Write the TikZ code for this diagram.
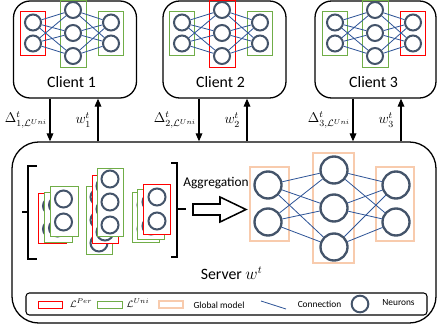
\documentclass[tikz,border=0pt]{standalone}
\usepackage{amsmath}
\usepackage{fontspec}
\setmainfont{Carlito}
\usepackage{tikz}
\usetikzlibrary{arrows.meta, positioning, calc}

\definecolor{perred}{RGB}{255,0,0}
\definecolor{unigreen}{RGB}{112,173,71}
\definecolor{globorange}{RGB}{248,203,173}
\definecolor{neurongray}{RGB}{68,84,106}
\definecolor{linkblue}{RGB}{47,85,151}

\begin{document}
\begin{tikzpicture}[
        x=3mm, y=3mm,
        font=\fontsize{13.5}{16}\selectfont,
        box/.style={draw, rounded corners=5mm, line width=1.1pt},
        neuron/.style={draw=neurongray, circle, line width=1.7pt, minimum size=4.8mm, inner sep=0pt},
        bigneuron/.style={neuron, line width=2pt, minimum size=8.1mm},
        layer/.style={draw, line width=0.8pt, inner sep=0pt},
        link/.style={draw=linkblue, line width=0.7pt},
        bracket/.style={line width=1.3pt},
        lbl/.style={font=\fontsize{12}{14}\selectfont, inner sep=1pt},
        key/.style={font=\fontsize{8}{9}\selectfont},
        arrow/.style={-{Triangle[length=2.4mm,width=2mm]}, line width=1pt}
    ]
        \useasboundingbox (0,0) rectangle (43.7,32.8);

        % Clients
        \node[box, minimum width=36.9mm, minimum height=29.1mm] (client1) at (7.5,27.85) {};
        \node[box, minimum width=36.9mm, minimum height=29.1mm] (client2) at (22.45,27.85) {};
        \node[box, minimum width=36.3mm, minimum height=29.1mm] (client3) at (37.55,27.85) {};

        % Local networks
        \foreach \k/\cx/\ca/\cb/\cc in {1/7.3/perred/unigreen/unigreen, 2/22.2/unigreen/perred/unigreen, 3/37.5/unigreen/unigreen/perred} {
            \node[layer, draw=\ca, minimum width=7.5mm, minimum height=13.2mm] (n\k a) at (\cx-4,29.5) {};
            \node[layer, draw=\cb, minimum width=7.8mm, minimum height=20.1mm] (n\k b) at (\cx,29.45) {};
            \node[layer, draw=\cc, minimum width=7.5mm, minimum height=13.2mm] (n\k c) at (\cx+3.8,29.5) {};
            \node[neuron] (n\k a1) at (\cx-4,30.55) {};
            \node[neuron] (n\k a2) at (\cx-4,28.45) {};
            \node[neuron] (n\k b1) at (\cx,31.8) {};
            \node[neuron] (n\k b2) at (\cx,29.5) {};
            \node[neuron] (n\k b3) at (\cx,27.2) {};
            \node[neuron] (n\k c1) at (\cx+3.8,30.55) {};
            \node[neuron] (n\k c2) at (\cx+3.8,28.45) {};
            \foreach \i in {1,2}
                \foreach \j in {1,2,3} {
                    \draw[link] (n\k a\i) -- (n\k b\j);
                    \draw[link] (n\k b\j) -- (n\k c\i);
                }
            \node (lab\k) at (\cx-0.15,24.6) {Client \k};
        }

        % Server
        \node[box, rounded corners=8mm, minimum width=127.2mm, minimum height=54.3mm] (server) at (22.4,9.55) {};
        \node (srvlab) at (23.15,5.5) {Server $w^t$};

        % Uploads and downloads
        \coordinate (dn1) at (5.0,0);
        \coordinate (up1) at (9.8,0);
        \coordinate (dn2) at (19.9,0);
        \coordinate (up2) at (24.7,0);
        \coordinate (dn3) at (35.3,0);
        \coordinate (up3) at (40.1,0);
        \draw[arrow] (client1.south -| dn1) -- (server.north -| dn1) node[midway, left, lbl, xshift=-0.3mm] {$\Delta^t_{1,\mathcal{L}^{Uni}}$};
        \draw[arrow] (server.north -| up1) -- (client1.south -| up1) node[midway, left, lbl, xshift=-1.6mm] {$w^t_1$};
        \draw[arrow] (client2.south -| dn2) -- (server.north -| dn2) node[midway, left, lbl, xshift=-0.3mm] {$\Delta^t_{2,\mathcal{L}^{Uni}}$};
        \draw[arrow] (server.north -| up2) -- (client2.south -| up2) node[midway, left, lbl, xshift=-1.6mm] {$w^t_2$};
        \draw[arrow] (client3.south -| dn3) -- (server.north -| dn3) node[midway, left, lbl, xshift=-0.3mm] {$\Delta^t_{3,\mathcal{L}^{Uni}}$};
        \draw[arrow] (server.north -| up3) -- (client3.south -| up3) node[midway, left, lbl, xshift=-1.6mm] {$w^t_3$};

        % Collected layers
        \foreach \m/\dx/\dy/\col in {1/-1.2/-0.7/perred, 2/-0.6/-0.6/unigreen, 3/0/0/unigreen} {
            \node[layer, fill=white, draw=\col, minimum width=8.4mm, minimum height=15mm] (s1l\m) at (6.4+\dx,11.7+\dy) {};
            \node[neuron, minimum size=5.1mm] (s1l\m n1) at (6.35+\dx,12.9+\dy) {};
            \node[neuron, minimum size=5.1mm] (s1l\m n2) at (6.35+\dx,10.6+\dy) {};
        }
        \foreach \m/\dx/\dy/\col in {1/-1.1/-1.8/unigreen, 2/-0.5/-0.7/perred, 3/0/0/unigreen} {
            \node[layer, fill=white, draw=\col, minimum width=7.8mm, minimum height=20.4mm] (s2l\m) at (11.0+\dx,12.6+\dy) {};
            \node[neuron, minimum size=5.1mm] (s2l\m n1) at (11.0+\dx,14.9+\dy) {};
            \node[neuron, minimum size=5.1mm] (s2l\m n2) at (11.0+\dx,12.6+\dy) {};
            \node[neuron, minimum size=5.1mm] (s2l\m n3) at (11.0+\dx,10.3+\dy) {};
        }
        \foreach \m/\dx/\dy/\col in {1/-1.1/-0.8/unigreen, 2/-0.6/-0.5/unigreen, 3/0/0/perred} {
            \node[layer, fill=white, draw=\col, minimum width=8.1mm, minimum height=15mm] (s3l\m) at (15.65+\dx,11.9+\dy) {};
            \node[neuron, minimum size=5.1mm] (s3l\m n1) at (15.7+\dx,13.1+\dy) {};
            \node[neuron, minimum size=5.1mm] (s3l\m n2) at (15.7+\dx,10.7+\dy) {};
        }

        % Brackets
        \draw[bracket] (3.7,16.2) -- (2.8,16.2) -- (2.8,6.9) -- (3.7,6.9);
        \draw[bracket] (2.8,11.6) -- (2.2,11.6);
        \draw[bracket] (17.1,16.5) -- (17.7,16.5) -- (17.7,7.1) -- (17.1,7.1);
        \draw[bracket] (17.7,11.9) -- (18.6,11.9);

        % Aggregation
        \node[font=\fontsize{11.4}{13}\selectfont] (aggtext) at (21.6,14.5) {Aggregation};
        \draw[line width=1.3pt] (19.3,12.4) -- (22.0,12.4) -- (22.0,13.1) -- (24.6,11.85)
            -- (22.0,10.6) -- (22.0,11.3) -- (19.3,11.3) -- cycle;

        % Global model
        \node[layer, draw=globorange, line width=1pt, minimum width=11.7mm, minimum height=22.2mm] (ga) at (26.95,12.4) {};
        \node[layer, draw=globorange, line width=1pt, minimum width=12.3mm, minimum height=33mm] (gb) at (33.35,12.0) {};
        \node[layer, draw=globorange, line width=1pt, minimum width=11.4mm, minimum height=22.2mm] (gc) at (39.5,12.4) {};
        \node[bigneuron] (ga1) at (26.8,14.3) {};
        \node[bigneuron] (ga2) at (26.8,10.6) {};
        \node[bigneuron] (gb1) at (33.4,15.8) {};
        \node[bigneuron] (gb2) at (33.4,12.0) {};
        \node[bigneuron] (gb3) at (33.4,8.1) {};
        \node[bigneuron] (gc1) at (39.6,14.3) {};
        \node[bigneuron] (gc2) at (39.6,10.6) {};
        \foreach \i in {1,2}
            \foreach \j in {1,2,3} {
                \draw[link] (ga\i) -- (gb\j);
                \draw[link] (gb\j) -- (gc\i);
            }

        % Legend
        \node[draw, rounded corners=1mm, line width=0.9pt, minimum width=120.3mm, minimum height=6.6mm] (legend) at (22.65,2.4) {};
        \node[layer, draw=perred, minimum width=7.2mm, minimum height=2.1mm] (keyper) at (5.0,2.35) {};
        \node[key] (txtper) at (8.1,2.5) {$\mathcal{L}^{Per}$};
        \node[layer, draw=unigreen, minimum width=7.5mm, minimum height=2.1mm] (keyuni) at (10.95,2.35) {};
        \node[key] (txtuni) at (13.8,2.5) {$\mathcal{L}^{Uni}$};
        \node[layer, draw=globorange, line width=1pt, minimum width=7.2mm, minimum height=2.1mm] (keyglob) at (17.1,2.35) {};
        \node[key] (txtglob) at (21.9,2.3) {Global model};
        \coordinate (linka) at (26.1,2.7);
        \coordinate (linkb) at (28.6,1.9);
        \draw[link] (linka) -- (linkb);
        \node[key] (txtlink) at (31.95,2.4) {Connection};
        \node[neuron, minimum size=5mm] (keyneuron) at (36.0,2.4) {};
        \node[key] (txtneuron) at (39.85,2.5) {Neurons};

    \end{tikzpicture}
\end{document}
